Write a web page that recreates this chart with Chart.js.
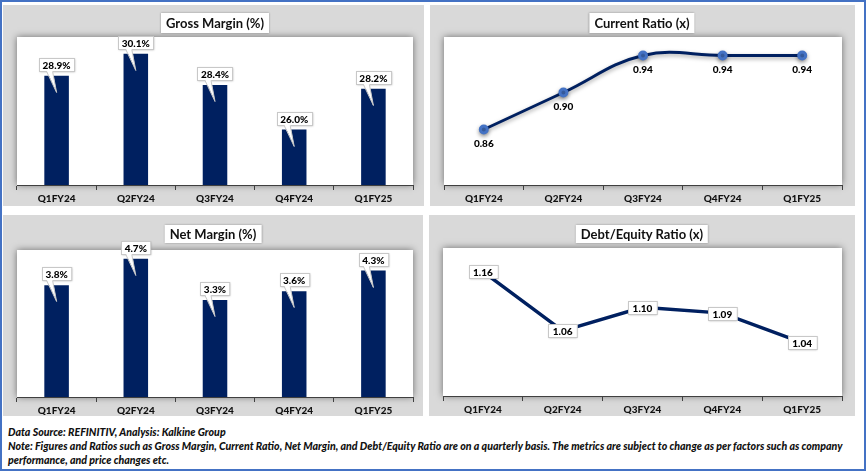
<!DOCTYPE html>
<html>
<head>
<meta charset="utf-8">
<script src="https://cdn.jsdelivr.net/npm/chart.js@4.4.0/dist/chart.umd.min.js"></script>
<style>
    body { margin: 0; width: 866px; height: 471px; position: relative; overflow: hidden; background: #fff; font-family: Lato, "Noto Sans", sans-serif; }
    #frame { position: absolute; left: 0; top: 0; width: 866px; height: 471px; box-sizing: border-box; border: 2px solid #4472C4; }
    .panel { position: absolute; background: #D9D9D9; }
    .panel canvas { position: absolute; left: 0; top: 0; }
    .title { position: absolute; transform: translateX(-50%); background: #fff; color: #111; font-weight: bold; font-size: 13px;
             padding: 0 5px; box-shadow: 0 0 2px rgba(0,0,0,0.35); white-space: nowrap; z-index: 2; }
    .note { position: absolute; left: 8px; font-style: italic; font-weight: 900; font-size: 10.6px; line-height: 13px; color: #111; white-space: nowrap; }
</style>
</head>
<body>
<div id="frame"></div>

<div class="panel" style="left:3px;top:5px;width:421px;height:201px"><canvas id="grossChart" width="421" height="201"></canvas></div>
<div class="panel" style="left:430px;top:5px;width:425px;height:201px"><canvas id="currentChart" width="425" height="201"></canvas></div>
<div class="panel" style="left:3px;top:215px;width:420px;height:201px"><canvas id="netChart" width="420" height="201"></canvas></div>
<div class="panel" style="left:429px;top:215px;width:426px;height:201px"><canvas id="debtChart" width="426" height="201"></canvas></div>

<div class="title" style="left:215px;top:13px;height:20px;line-height:20px">Gross Margin (%)</div>
<div class="title" style="left:642px;top:13px;height:20px;line-height:20px">Current Ratio (x)</div>
<div class="title" style="left:213px;top:225px;height:18px;line-height:18px">Net Margin (%)</div>
<div class="title" style="left:642px;top:225px;height:18px;line-height:18px">Debt/Equity Ratio (x)</div>

<div class="note" style="top:426px">Data Source: REFINITIV, Analysis: Kalkine Group</div>
<div class="note" style="top:440px">Note: Figures and Ratios such as Gross Margin, Current Ratio, Net Margin, and Debt/Equity Ratio are on a quarterly basis. The metrics are subject to change as per factors such as company</div>
<div class="note" style="top:454px">performance, and price changes etc.</div>

<script>
const quarters = ["Q1FY24", "Q2FY24", "Q3FY24", "Q4FY24", "Q1FY25"];
const grossMargin = [28.9, 30.1, 28.4, 26.0, 28.2];   // %
const currentRatio = [0.86, 0.90, 0.94, 0.94, 0.94];  // x
const netMargin = [3.8, 4.7, 3.3, 3.6, 4.3];          // %
const debtEquity = [1.16, 1.06, 1.10, 1.09, 1.04];    // x

const NAVY = "#002060";
const LABEL_FONT = "900 10px Lato";

Chart.defaults.font.family = "Lato";

// white plot area with soft shadow
const plotBg = {
    id: "plotBg",
    beforeDraw(chart) {
        const { ctx, chartArea: a } = chart;
        ctx.save();
        ctx.shadowColor = "rgba(0,0,0,0.5)";
        ctx.shadowBlur = 7;
        ctx.fillStyle = "#fff";
        ctx.fillRect(a.left, a.top, a.right - a.left, a.bottom - a.top);
        ctx.restore();
    }
};

// excel style callout labels above bars
const calloutLabels = {
    id: "callout",
    afterDatasetsDraw(chart) {
        const ctx = chart.ctx;
        const dataset = chart.data.datasets[0];
        chart.getDatasetMeta(0).data.forEach((bar, i) => {
            const text = dataset.data[i].toFixed(1) + "%";
            ctx.save();
            ctx.font = LABEL_FONT;
            const w = ctx.measureText(text).width + 7;
            const h = 13;
            const x = bar.x;
            const bx = Math.round(x - w / 2) + 0.5;
            const by = Math.round(bar.y - 5 - h) + 0.5;
            ctx.shadowColor = "rgba(0,0,0,0.3)";
            ctx.shadowBlur = 2;
            ctx.fillStyle = "#fff";
            ctx.fillRect(bx, by, w, h);
            ctx.shadowColor = "transparent";
            ctx.strokeStyle = "#c8c8c8";
            ctx.lineWidth = 1;
            ctx.strokeRect(bx, by, w, h);
            // pointer
            const base = by + h;
            ctx.beginPath();
            ctx.moveTo(x - 10, base - 1);
            ctx.lineTo(x, base + 21);
            ctx.lineTo(x - 4, base - 1);
            ctx.closePath();
            ctx.fill();
            ctx.beginPath();
            ctx.moveTo(x - 10, base);
            ctx.lineTo(x, base + 21);
            ctx.lineTo(x - 4, base);
            ctx.stroke();
            ctx.fillStyle = "#000";
            ctx.textAlign = "center";
            ctx.textBaseline = "middle";
            ctx.fillText(text, x, by + h / 2 + 0.5);
            ctx.restore();
        });
    }
};

const belowLabels = {
    id: "belowLabels",
    afterDatasetsDraw(chart) {
        const ctx = chart.ctx;
        const dataset = chart.data.datasets[0];
        chart.getDatasetMeta(0).data.forEach((pt, i) => {
            ctx.save();
            ctx.font = LABEL_FONT;
            ctx.fillStyle = "#000";
            ctx.textAlign = "center";
            ctx.textBaseline = "middle";
            ctx.fillText(dataset.data[i].toFixed(2), pt.x, pt.y + 14);
            ctx.restore();
        });
    }
};

const boxLabels = {
    id: "boxLabels",
    afterDatasetsDraw(chart) {
        const ctx = chart.ctx;
        const dataset = chart.data.datasets[0];
        chart.getDatasetMeta(0).data.forEach((pt, i) => {
            const text = dataset.data[i].toFixed(2);
            ctx.save();
            ctx.font = LABEL_FONT;
            const w = ctx.measureText(text).width + 9;
            const h = 13;
            const bx = Math.round(pt.x - w / 2) + 0.5;
            const by = Math.round(pt.y - h / 2) + 0.5;
            ctx.shadowColor = "rgba(0,0,0,0.3)";
            ctx.shadowBlur = 2;
            ctx.fillStyle = "#fff";
            ctx.fillRect(bx, by, w, h);
            ctx.shadowColor = "transparent";
            ctx.strokeStyle = "#c8c8c8";
            ctx.strokeRect(bx, by, w, h);
            ctx.fillStyle = "#000";
            ctx.textAlign = "center";
            ctx.textBaseline = "middle";
            ctx.fillText(text, pt.x, by + h / 2 + 0.5);
            ctx.restore();
        });
    }
};

const lineShadow = {
    id: "lineShadow",
    beforeDatasetDraw(chart) {
        const ctx = chart.ctx;
        ctx.save();
        ctx.shadowColor = "rgba(0,0,0,0.35)";
        ctx.shadowBlur = 4;
        ctx.shadowOffsetY = 2;
    },
    afterDatasetDraw(chart) {
        chart.ctx.restore();
    }
};

function xAxis(axisH) {
    return {
        offset: true,
        grid: { offset: true, drawOnChartArea: false, drawTicks: true, tickLength: 5, color: "#404040", lineWidth: 1 },
        border: { display: true, color: "#404040", width: 1 },
        ticks: { color: "#111", font: { weight: 900, size: 10 }, padding: 3, maxRotation: 0, autoSkip: false },
        afterFit(scale) { scale.height = axisH; }
    };
}

function baseOptions(pad, axisH, yMin, yMax) {
    return {
        responsive: false,
        animation: false,
        layout: { padding: { left: pad.left, right: pad.right, top: pad.top, bottom: 0 } },
        plugins: { legend: { display: false }, tooltip: { enabled: false }, title: { display: false } },
        scales: {
            x: xAxis(axisH),
            y: { display: false, min: yMin, max: yMax }
        }
    };
}

function barChart(id, values, pad, axisH, yMin, yMax) {
    new Chart(document.getElementById(id), {
        type: "bar",
        data: {
            labels: quarters,
            datasets: [{ data: values, backgroundColor: NAVY, categoryPercentage: 1, barPercentage: 0.31 }]
        },
        options: baseOptions(pad, axisH, yMin, yMax),
        plugins: [plotBg, calloutLabels]
    });
}

barChart("grossChart", grossMargin, { left: 14, right: 11, top: 32 }, 21, 23, 31);
barChart("netChart", netMargin, { left: 14, right: 10, top: 35 }, 19, 0, 5);

new Chart(document.getElementById("currentChart"), {
    type: "line",
    data: {
        labels: quarters,
        datasets: [{
            data: currentRatio,
            borderColor: NAVY,
            borderWidth: 3,
            tension: 0.4,
            pointRadius: 3.5,
            pointBackgroundColor: "#4472C4",
            pointBorderColor: "#4472C4",
            fill: false
        }]
    },
    options: baseOptions({ left: 14, right: 13, top: 32 }, 21, 0.80, 0.96),
    plugins: [plotBg, lineShadow, belowLabels]
});

new Chart(document.getElementById("debtChart"), {
    type: "line",
    data: {
        labels: quarters,
        datasets: [{
            data: debtEquity,
            borderColor: NAVY,
            borderWidth: 3.5,
            tension: 0,
            pointRadius: 0,
            fill: false
        }]
    },
    options: baseOptions({ left: 14, right: 13, top: 33 }, 20, 0.95, 1.20),
    plugins: [plotBg, boxLabels]
});
</script>
</body>
</html>
